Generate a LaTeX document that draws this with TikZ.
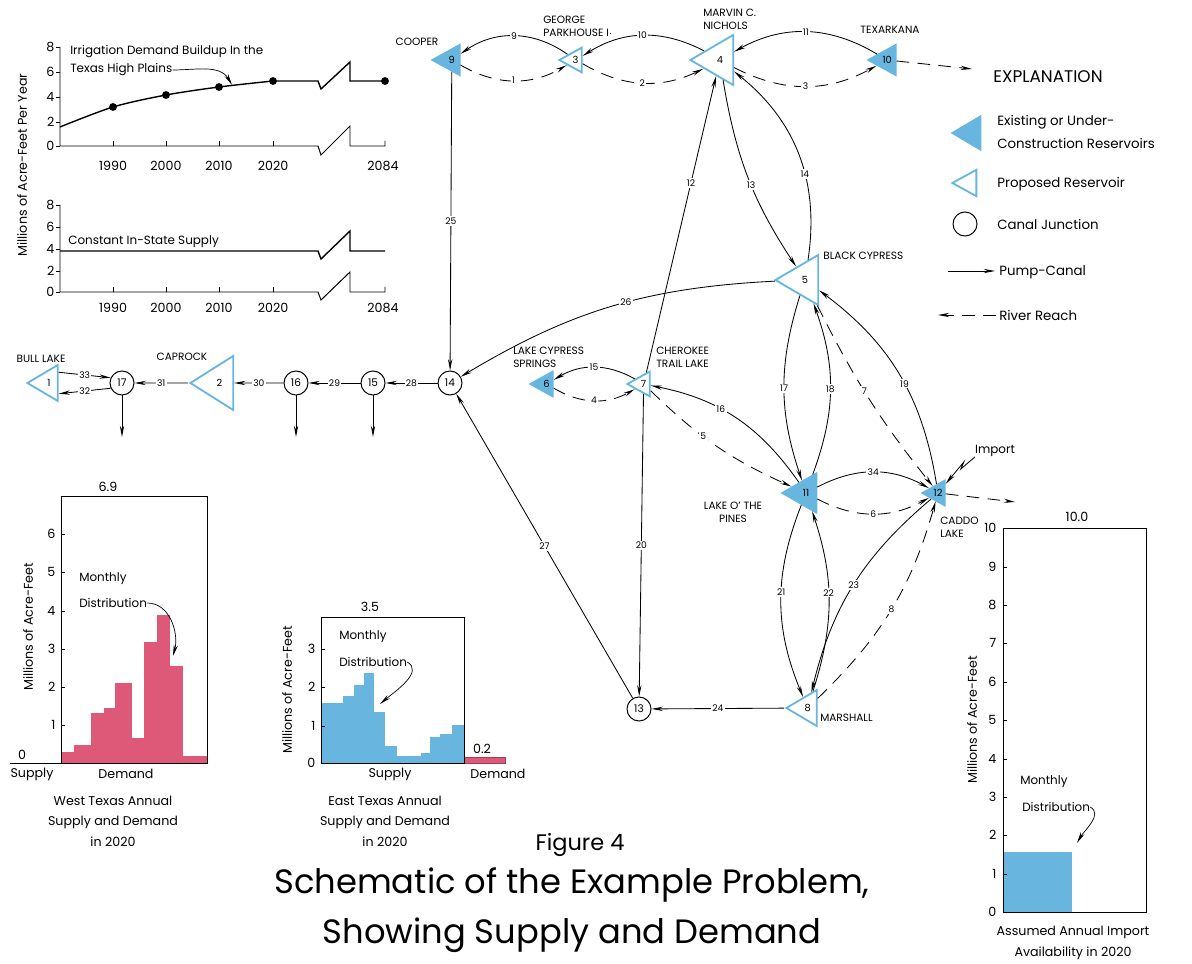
\documentclass[tikz,border=0pt]{standalone}
\usepackage{fontspec}
\setmainfont{Poppins}
\usetikzlibrary{arrows.meta}
\usetikzlibrary{shapes.geometric}

\definecolor{resblue}{RGB}{104,182,224}
\definecolor{barpink}{RGB}{222,88,120}

\tikzset{
  pump/.style={-{Stealth[length=8pt,width=3pt]}, line width=0.6pt},
  river/.style={pump, dash pattern=on 9pt off 6pt},
  res/.style={isosceles triangle, isosceles triangle stretches, shape border rotate=180,
    inner sep=0pt, draw=resblue, line width=1.3pt, font=\fontsize{7}{8}\selectfont, anchor=apex},
  existing/.style={res, fill=resblue},
  proposed/.style={res, fill=white},
  big/.style={minimum height=1.07cm, minimum width=1.25cm},
  large/.style={minimum height=0.85cm, minimum width=0.98cm},
  medium/.style={minimum height=0.76cm, minimum width=0.9cm},
  mid/.style={minimum height=0.68cm, minimum width=0.75cm},
  small/.style={minimum height=0.56cm, minimum width=0.62cm},
  junction/.style={circle, draw, line width=0.7pt, minimum size=0.6cm, inner sep=0pt,
    fill=white, font=\fontsize{7.5}{8}\selectfont},
  num/.style={fill=white, inner sep=1pt, font=\fontsize{6.5}{7}\selectfont},
  placename/.style={font=\fontsize{7.5}{9}\selectfont, align=left, inner sep=0pt},
  chartline/.style={line width=0.7pt},
  ticklbl/.style={font=\fontsize{9}{10}\selectfont, inner sep=1pt},
  note/.style={font=\fontsize{8.5}{10}\selectfont, inner sep=0pt},
  caption/.style={font=\fontsize{9}{14.5}\selectfont, align=center, inner sep=0pt},
  legtext/.style={font=\fontsize{9.5}{16.5}\selectfont, align=left, anchor=west, inner sep=0pt}
}

\begin{document}
\begin{tikzpicture}[x=0.025cm, y=-0.025cm]
\useasboundingbox (0,0) rectangle (1192,964);

% reservoirs (placed by apex) and canal junctions
\node[existing, mid] (n9) at (430,60) {9};
\node[proposed, small] (n3) at (557,60) {3};
\node[proposed, big] (n4) at (688,60) {4};
\node[existing, mid] (n10) at (866,60) {10};
\node[proposed, big] (n5) at (773,280) {5};
\node[existing, small] (n6) at (528,384) {6};
\node[proposed, small] (n7) at (625,384) {7};
\node[existing, large] (n11) at (780,493) {11};
\node[existing, small] (n12) at (920,493) {12};
\node[proposed, medium] (n8) at (784,708) {8};
\node[junction] (n13) at (639,709) {13};
\node[junction] (n14) at (450,383) {14};
\node[junction] (n15) at (373,383) {15};
\node[junction] (n16) at (296,383) {16};
\node[proposed, big, minimum width=1.35cm] (n2) at (188,383) {2};
\node[junction] (n17) at (122,383) {17};
\node[proposed, medium] (n1) at (25,383) {1};

% names
\node[placename] (cooper) at (417,42) {COOPER};
\node[placename, anchor=west] (george) at (543,26) {GEORGE\\PARKHOUSE I$\cdot$};
\node[placename, anchor=west] (marvin) at (703,19) {MARVIN C.\\NICHOLS};
\node[placename] (texarkana) at (890,30) {TEXARKANA};
\node[placename, anchor=west] (blackcyp) at (823,256) {BLACK CYPRESS};
\node[placename, anchor=west] (lakecyp) at (513,357) {LAKE CYPRESS\\SPRINGS};
\node[placename, anchor=west] (cherokee) at (656,357) {CHEROKEE\\TRAIL LAKE};
\node[placename, align=center] (pines) at (733,512) {LAKE O' THE\\PINES};
\node[placename, anchor=west] (caddo) at (940,527) {CADDO\\LAKE};
\node[placename, anchor=west] (marshall) at (820,718) {MARSHALL};
\node[placename] (bull) at (41,359) {BULL LAKE};
\node[placename] (caprock) at (182,357) {CAPROCK};
\node[note] (import) at (995,451) {Import};

% free ends
\coordinate (out10) at (972,69);
\coordinate (out12) at (1015,502);
\coordinate (d17) at (122,437);
\coordinate (d16) at (296,437);
\coordinate (d15) at (373,437);

% top row
\draw[pump] (n3) to[bend right=35] node[num] {9} (n9);
\draw[river] (n9) to[bend right=30] node[num] {1} (n3);
\draw[pump] (n4) to[bend right=30] node[num] {10} (n3);
\draw[river] (n3) to[bend right=28] node[num] {2} (n4);
\draw[pump] (n10) to[bend right=30] node[num] {11} (n4);
\draw[river] (n4) to[bend right=28] node[num] {3} (n10);
\draw[river] (n10) -- (out10);

% west side
\draw[pump] (n9) -- node[num] {25} (n14);
\draw[pump] (n14) -- node[num] {28} (n15);
\draw[pump] (n15) -- node[num] {29} (n16);
\draw[pump] (n16) -- node[num] {30} (n2);
\draw[pump] (n2) -- node[num] {31} (n17);
\draw[pump] (n1.48) -- node[num] {33} (n17.155);
\draw[pump] (n17.205) -- node[num] {32} (n1.-48);
\draw[pump] (n17) -- (d17);
\draw[pump] (n16) -- (d16);
\draw[pump] (n15) -- (d15);

% east side
\draw[pump] (n7) -- node[num, pos=0.64] {12} (n4);
\draw[pump] (n4) to[bend right=12] node[num, pos=0.54] {13} (n5);
\draw[pump] (n5) to[bend right=30] node[num, pos=0.4] {14} (n4);
\draw[pump] (n5) to[bend right=14] node[num, pos=0.45] {26} (n14);
\draw[pump] (n7) to[bend right=30] node[num] {15} (n6);
\draw[river] (n6) to[bend right=30] node[num] {4} (n7);
\draw[pump] (n5) to[bend right=18] node[num] {17} (n11);
\draw[pump] (n11) to[bend right=20] node[num] {18} (n5);
\draw[river] (n5) to[bend right=6] node[num, pos=0.45] {7} (n12);
\draw[pump] (n12) to[bend right=22] node[num, pos=0.45] {19} (n5);
\draw[pump] (n11) to[bend right=22] node[num, pos=0.6] {16} (n7);
\draw[river] (n7) to[bend right=10] node[num, pos=0.4] {5} (n11);
\draw[pump] (n11) to[bend left=28] node[num] {34} (n12);
\draw[river] (n11) to[bend right=28] node[num] {6} (n12);
\draw[pump] (n7) -- node[num] {20} (n13);
\draw[pump] (n13) -- node[num] {27} (n14);
\draw[pump] (n11) to[bend right=22] node[num, pos=0.45] {21} (n8);
\draw[pump] (n8) to[bend right=18] node[num, pos=0.55] {22} (n11);
\draw[pump] (n12) to[bend right=18] node[num] {23} (n8);
\draw[river] (n8) to[bend right=15] node[num] {8} (n12);
\draw[pump] (n8) -- node[num] {24} (n13);
\draw[pump] (import.south west) -- ++(-14,12) -- ++(3,-7) -- (n12);
\draw[river] (n12) -- (out12);

% explanation
\node[font=\fontsize{12}{14}\selectfont] (explain) at (1048,77) {EXPLANATION};
\node[existing, minimum height=0.7cm, minimum width=0.83cm] (legex) at (950,133) {};
\node[legtext] (legextxt) at (997,132) {Existing or Under-\\Construction Reservoirs};
\node[proposed, minimum height=0.6cm, minimum width=0.66cm] (legpr) at (950,183) {};
\node[legtext] (legprtxt) at (997,184) {Proposed Reservoir};
\node[junction] (legjn) at (965,224) {};
\node[legtext] (legjntxt) at (997,224) {Canal Junction};
\coordinate (pca) at (948,271);
\coordinate (pcb) at (995,271);
\draw[pump] (pca) -- (pcb);
\node[legtext] (legpctxt) at (999,272) {Pump-Canal};
\coordinate (rra) at (996,315);
\coordinate (rrb) at (938,315);
\draw[river] (rra) -- (rrb);
\node[legtext] (legrrtxt) at (999,315) {River Reach};

% irrigation demand buildup
\node[ticklbl, rotate=90] at (22,165) {Millions of Acre-Feet Per Year};
\draw[chartline] (60,47) -- (60,146) -- (318,146) -- (321,155) -- (350,126) -- (350,146) -- (385,146) -- (385,141);
\foreach \v/\y in {8/47,6/72,4/97,2/122,0/146} {
  \draw[chartline] (56,\y) -- (60,\y);
  \node[ticklbl, anchor=east] at (56,\y) {\v};
}
\foreach \yr/\x in {1990/113,2000/166,2010/219,2020/273} {
  \draw[chartline] (\x,146) -- (\x,141);
  \node[ticklbl] at (\x,166) {\yr};
}
\node[ticklbl] at (383,166) {2084};
\draw[line width=1pt] plot[smooth] coordinates {(60,127) (113,107) (166,95) (219,87) (273,81)}
  -- (318,81) -- (321,89) -- (350,62) -- (350,81) -- (385,81);
\foreach \x/\y in {113/107,166/95,219/87,273/81,385/81}
  \fill (\x,\y) circle[radius=2.8pt];
\node[note, anchor=west] (irr) at (70,52) {Irrigation Demand Buildup In the};
\node[note, anchor=west] (plains) at (70,70) {Texas High Plains};
\coordinate (irrtip) at (232,85);
\draw[pump, line width=0.5pt] (plains.east) to[out=0,in=120] (irrtip);

% constant supply
\draw[chartline] (60,205) -- (60,292) -- (318,292) -- (321,300) -- (350,272) -- (350,292) -- (385,292) -- (385,287);
\foreach \v/\y in {8/205,6/227,4/249,2/271,0/292} {
  \draw[chartline] (56,\y) -- (60,\y);
  \node[ticklbl, anchor=east] at (56,\y) {\v};
}
\foreach \yr/\x in {1990/113,2000/166,2010/219,2020/273} {
  \draw[chartline] (\x,292) -- (\x,287);
  \node[ticklbl] at (\x,308) {\yr};
}
\node[ticklbl] at (383,308) {2084};
\draw[line width=1pt] (60,251) -- (318,251) -- (321,259) -- (350,231) -- (350,251) -- (385,251);
\node[note, anchor=west] (supply) at (68,242) {Constant In-State Supply};

% west texas
\foreach \a/\b/\t in {61/74/752,74/91/745,91/104/713,104/115/708,115/132/683,132/144/738,144/157/642,157/170/615,170/183/666,183/207/756}
  \fill[barpink] (\a,763) rectangle (\b,\t);
\draw[chartline] (61,496) rectangle (207,763);
\draw[chartline] (10,763) -- (61,763);
\foreach \v/\y in {1/725,2/687,3/649,4/611,5/572,6/534} {
  \draw[chartline] (61,\y) -- (65,\y);
  \node[ticklbl, anchor=east] at (57,\y) {\v};
}
\node[ticklbl] at (22,755) {0};
\node[ticklbl, rotate=90] at (28,627) {Millions of Acre-Feet};
\node[ticklbl] at (108,487) {6.9};
\node[ticklbl] at (32,774) {Supply};
\node[ticklbl] at (126,774) {Demand};
\node[note, anchor=west] at (79,579) {Monthly};
\node[note, anchor=west] (wdist) at (79,603) {Distribution};
\coordinate (wtip) at (173,656);
\draw[pump, line width=0.5pt] (wdist.east) to[out=0,in=75] (wtip);
\node[caption] at (113,821) {West Texas Annual\\Supply and Demand\\in 2020};

% east texas
\foreach \a/\b/\t in {321/343/703,343/354/696,354/364/685,364/374/673,374/385/712,385/397/746,397/421/756,421/430/753,430/440/737,440/452/734,452/464/725}
  \fill[resblue] (\a,763) rectangle (\b,\t);
\draw[barpink!70!black, fill=barpink, line width=0.5pt] (464,757) rectangle (505,763);
\draw[chartline] (321,617) rectangle (464,763);
\foreach \v/\y in {1/726,2/687,3/649} {
  \draw[chartline] (321,\y) -- (325,\y);
  \node[ticklbl, anchor=east] at (317,\y) {\v};
}
\node[ticklbl, anchor=east] at (317,763) {0};
\node[ticklbl, rotate=90] at (287,690) {Millions of Acre-Feet};
\node[ticklbl] at (370,607) {3.5};
\node[ticklbl] at (482,749) {0.2};
\node[ticklbl] at (390,774) {Supply};
\node[ticklbl] at (498,774) {Demand};
\node[note, anchor=west] at (339,637) {Monthly};
\node[note, anchor=west] (edist) at (339,662) {Distribution};
\coordinate (etip) at (380,704);
\draw[pump, line width=0.5pt] (edist.east) to[out=-30,in=40] (etip);
\node[caption] at (385,821) {East Texas Annual\\Supply and Demand\\in 2020};

% import availability
\fill[resblue] (1003,852) rectangle (1072,912);
\draw[chartline] (1003,528) rectangle (1146,912);
\foreach \v/\y in {1/874,2/835,3/797,4/759,5/720,6/682,7/643,8/605,9/567} {
  \draw[chartline] (1003,\y) -- (1007,\y);
  \node[ticklbl, anchor=east] at (998,\y) {\v};
}
\node[ticklbl, anchor=east] at (998,912) {0};
\node[ticklbl, anchor=east] at (998,528) {10};
\node[ticklbl, rotate=90] at (972,720) {Millions of Acre-Feet};
\node[ticklbl] at (1077,517) {10.0};
\node[note, anchor=west] at (1020,782) {Monthly};
\node[note, anchor=west] (rdist) at (1022,807) {Distribution};
\coordinate (rtip) at (1077,843);
\draw[pump, line width=0.5pt] (rdist.east) to[out=-30,in=60] (rtip);
\node[caption] at (1073,943) {Assumed Annual Import\\Availability in 2020};

% title
\node[font=\fontsize{16}{18}\selectfont] (fig) at (580,845) {Figure 4};
\node[font=\fontsize{24}{36}\selectfont, align=center] (title) at (572,910) {Schematic of the Example Problem,\\Showing Supply and Demand};
\end{tikzpicture}
\end{document}
